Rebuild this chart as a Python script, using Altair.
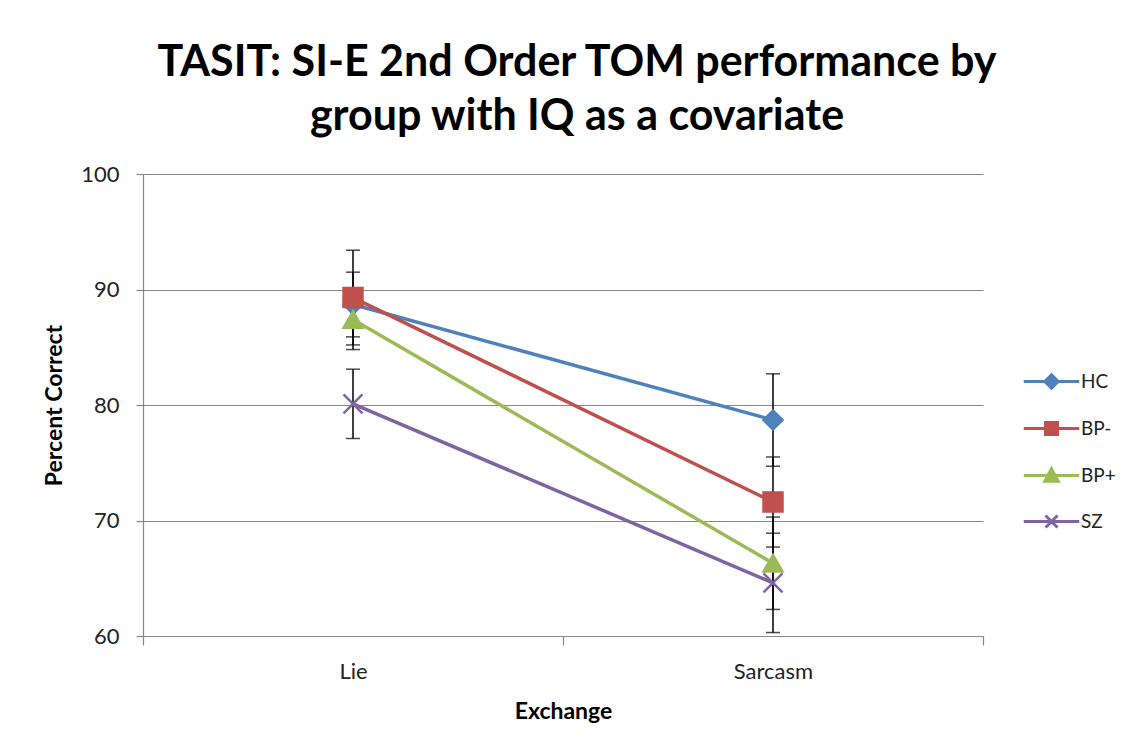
import altair as alt
import pandas as pd

exchanges = ["Lie", "Sarcasm"]
groups = ["HC", "BP-", "BP+", "SZ"]
colors = ["#4F81BD", "#C0504D", "#9BBB59", "#8064A2"]

lie_means = [88.7, 89.3, 87.4, 80.1]
sarcasm_means = [78.7, 71.6, 66.3, 64.6]
lie_err = [2.8, 4.1, 2.6, 3.0]
sarcasm_err = [4.0, 3.9, 4.0, 4.3]

rows = []
for i, g in enumerate(groups):
    rows.append({"Exchange": "Lie", "group": g, "value": lie_means[i],
                 "lo": lie_means[i] - lie_err[i], "hi": lie_means[i] + lie_err[i]})
    rows.append({"Exchange": "Sarcasm", "group": g, "value": sarcasm_means[i],
                 "lo": sarcasm_means[i] - sarcasm_err[i], "hi": sarcasm_means[i] + sarcasm_err[i]})
df = pd.DataFrame(rows)

FONT = "Lato"
x_enc = alt.X("Exchange:N",
              scale=alt.Scale(type="band", domain=exchanges, paddingInner=0, paddingOuter=0),
              axis=alt.Axis(title="Exchange", tickBand="extent", grid=False, labelAngle=0,
                            tickSize=9, labelPadding=16, titlePadding=18))
y_scale = alt.Scale(domain=[60, 100], nice=False, zero=False)
y_axis = alt.Axis(title="Percent Correct", values=[60, 70, 80, 90, 100], grid=True,
                  tickSize=7, labelPadding=17, titlePadding=14)

color_scale = alt.Scale(domain=groups, range=colors)
shape_scale = alt.Scale(domain=groups,
                        range=["diamond", "square", "triangle-up", "M-1,-1L1,1M-1,1L1,-1"])
legend_shapes = alt.Scale(domain=groups, range=[
    "M-3.7,0H3.7M0,-0.9L0.9,0L0,0.9L-0.9,0Z",
    "M-3.7,0H3.7M-0.8,-0.8H0.8V0.8H-0.8Z",
    "M-3.7,0H3.7M0,-0.9L0.9,0.75H-0.9Z",
    "M-3.7,0H3.7M-0.8,-0.8L0.8,0.8M-0.8,0.8L0.8,-0.8",
])

base = alt.Chart(df)

err_rule = base.mark_rule(color="black", strokeWidth=1.5).encode(
    x=x_enc, y=alt.Y("lo:Q", scale=y_scale, axis=y_axis), y2="hi:Q")
cap_lo = base.mark_tick(color="black", thickness=1.5, size=14).encode(
    x=x_enc, y=alt.Y("lo:Q", scale=y_scale, axis=y_axis))
cap_hi = base.mark_tick(color="black", thickness=1.5, size=14).encode(
    x=x_enc, y=alt.Y("hi:Q", scale=y_scale, axis=y_axis))

lines = base.mark_line(strokeWidth=3.5).encode(
    x=x_enc, y=alt.Y("value:Q", scale=y_scale, axis=y_axis),
    color=alt.Color("group:N", scale=color_scale, legend=None),
    detail="group:N")

points = base.mark_point(filled=True, size=360, strokeWidth=2.5, opacity=1).encode(
    x=x_enc, y=alt.Y("value:Q", scale=y_scale, axis=y_axis),
    color=alt.Color("group:N", scale=color_scale, legend=None),
    shape=alt.Shape("group:N", scale=shape_scale, legend=None),
    stroke=alt.Stroke("group:N", scale=color_scale, legend=None))

legend = alt.Legend(title=None, orient="none", legendX=899, legendY=198,
                    symbolSize=225, symbolStrokeWidth=3, labelOffset=20, rowPadding=21,
                    padding=0, labelFont=FONT, labelFontSize=19, labelColor="#222",
                    symbolOpacity=1)

legend_layer = base.mark_point(filled=False, size=225, strokeWidth=3, opacity=1).encode(
    x=x_enc, y=alt.Y("value:Q", scale=y_scale, axis=y_axis),
    color=alt.Color("group:N", scale=color_scale, legend=legend, sort=groups),
    fill=alt.Fill("group:N", scale=color_scale, legend=legend, sort=groups),
    shape=alt.Shape("group:N", scale=legend_shapes, legend=legend, sort=groups),
).transform_filter("false")

chart = alt.layer(err_rule, cap_lo, cap_hi, lines, points, legend_layer).resolve_scale(
    color="independent", shape="independent", stroke="independent", fill="independent"
).properties(
    width=840, height=462,
    autosize=alt.AutoSizeParams(type="none"),
    padding={"left": 135, "top": 166, "right": 150, "bottom": 100},
    title=alt.Title(["TASIT: SI-E 2nd Order TOM performance by",
                     "group with IQ as a covariate"],
                    font=FONT, fontSize=43, fontWeight="bold", color="black",
                    lineHeight=54, anchor="middle", dx=14, offset=24),
).configure_view(stroke=None).configure_axis(
    domainColor="#888", tickColor="#888", gridColor="#888", gridWidth=1,
    domainWidth=1.2, tickWidth=1.2,
    labelFont=FONT, labelFontSize=22, labelColor="#222",
    titleFont=FONT, titleFontSize=23, titleFontWeight="bold", titleColor="black",
)

chart.save("out.html", embed_options={"renderer": "svg", "actions": False})
